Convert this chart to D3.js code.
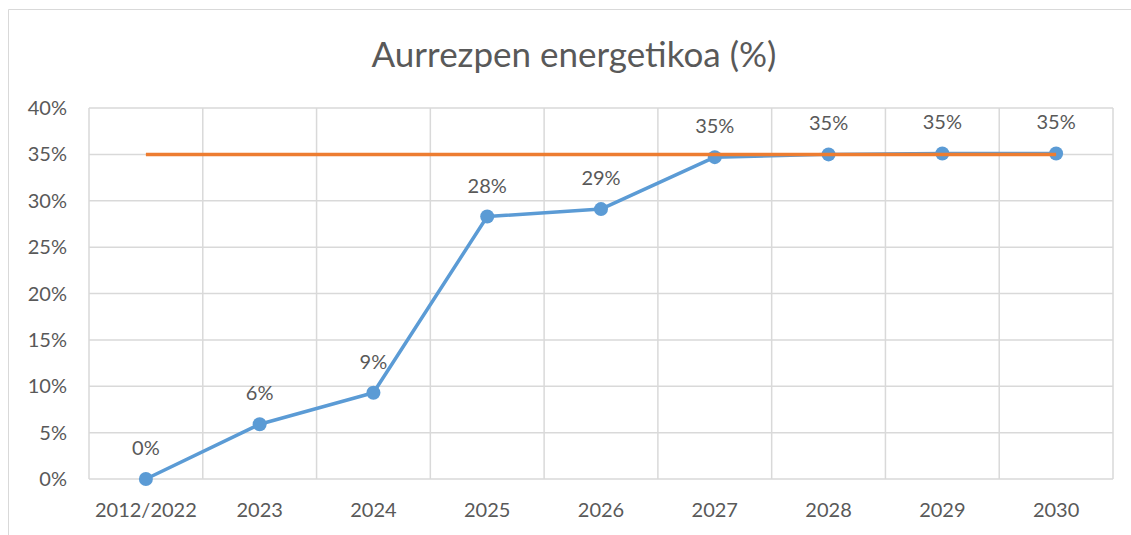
<!DOCTYPE html>
<html>
<head>
<meta charset="utf-8">
<script src="https://cdn.jsdelivr.net/npm/d3@7"></script>
<style>
  body { margin: 0; background: #fff; }
  svg text { font-family: Lato, "Open Sans", sans-serif; fill: #595959; }
</style>
</head>
<body>
<div class="chart"></div>
<script>
const years = ['2012/2022', '2023', '2024', '2025', '2026', '2027', '2028', '2029', '2030'];
const savings = [0, 5.9, 9.3, 28.3, 29.1, 34.7, 35.0, 35.1, 35.1];
const target = [35, 35, 35, 35, 35, 35, 35, 35, 35];
const yTicks = [0, 5, 10, 15, 20, 25, 30, 35, 40];

const width = 1131;
const height = 535;
const margin = { top: 108, right: 18, bottom: 56, left: 89 };

const svg = d3
  .select('.chart')
  .append('svg')
  .attr('width', width)
  .attr('height', height);

// outer chart border (only top + left visible)
svg.append('path')
  .attr('d', `M8.5,${height} V9.5 H${width}`)
  .attr('fill', 'none')
  .attr('stroke', '#d9d9d9')
  .attr('stroke-width', 1);

svg.append('text')
  .attr('x', 574)
  .attr('y', 67)
  .attr('text-anchor', 'middle')
  .style('font-size', '35px')
  .text('Aurrezpen energetikoa (%)');

const x = d3.scaleBand()
  .domain(years)
  .range([margin.left, width - margin.right]);

const y = d3.scaleLinear()
  .domain([0, 40])
  .range([height - margin.bottom, margin.top]);

const grid = svg.append('g').attr('stroke', '#d9d9d9').attr('stroke-width', 1.5);

// horizontal grid
grid.selectAll('.h')
  .data(yTicks)
  .join('line')
  .attr('x1', margin.left)
  .attr('x2', width - margin.right)
  .attr('y1', (d) => y(d))
  .attr('y2', (d) => y(d));

// vertical grid at category boundaries
const bounds = years.map((d) => x(d)).concat([width - margin.right]);
grid.selectAll('.v')
  .data(bounds)
  .join('line')
  .attr('x1', (d) => d)
  .attr('x2', (d) => d)
  .attr('y1', y(40))
  .attr('y2', y(0));

// y labels
svg.append('g')
  .selectAll('text')
  .data(yTicks)
  .join('text')
  .attr('x', margin.left - 22)
  .attr('y', (d) => y(d))
  .attr('dy', '0.35em')
  .attr('text-anchor', 'end')
  .style('font-size', '20px')
  .text((d) => d + '%');

// x labels
svg.append('g')
  .selectAll('text')
  .data(years)
  .join('text')
  .attr('x', (d) => x(d) + x.bandwidth() / 2)
  .attr('y', y(0) + 38)
  .attr('text-anchor', 'middle')
  .style('font-size', '20px')
  .text((d) => d);

const cx = (d, i) => x(years[i]) + x.bandwidth() / 2;

const line = d3.line()
  .x((d, i) => cx(d, i))
  .y((d) => y(d));

svg.append('path')
  .datum(savings)
  .attr('d', line)
  .attr('fill', 'none')
  .attr('stroke', '#5b9bd5')
  .attr('stroke-width', 3.5)
  .attr('stroke-linejoin', 'round');

svg.append('g')
  .selectAll('circle')
  .data(savings)
  .join('circle')
  .attr('cx', cx)
  .attr('cy', (d) => y(d))
  .attr('r', 7)
  .attr('fill', '#5b9bd5');

svg.append('path')
  .datum(target)
  .attr('d', line)
  .attr('fill', 'none')
  .attr('stroke', '#ed7d31')
  .attr('stroke-width', 3.5);

// data labels
svg.append('g')
  .selectAll('text')
  .data(savings)
  .join('text')
  .attr('x', cx)
  .attr('y', (d) => y(d) - 24)
  .attr('text-anchor', 'middle')
  .style('font-size', '20px')
  .text((d) => Math.round(d) + '%');
</script>
</body>
</html>
